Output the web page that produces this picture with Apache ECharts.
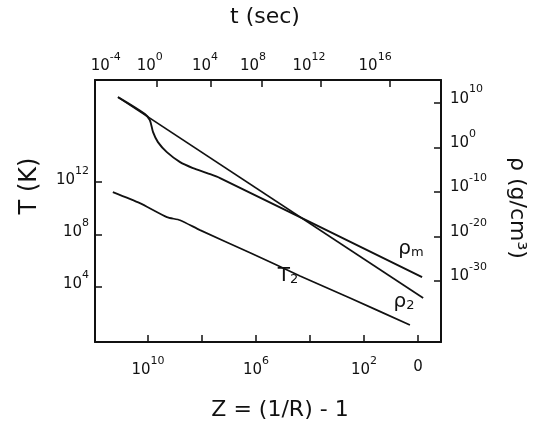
<!DOCTYPE html>
<html><head><meta charset="utf-8">
<script src="https://cdn.jsdelivr.net/npm/echarts@6/dist/echarts.min.js"></script>
<style>html,body{margin:0;padding:0;background:#fff}#c{width:550px;height:429px}</style>
</head><body><div id="c"></div>
<script>
// ---- data (log10 values) ----
const zTicks = [10, 8, 6, 4, 2, 0];            // log10 z, bottom axis ticks
const zLabelVals = [10, 6, 2, 0];              // labelled bottom ticks
const TTicks = [12, 8, 4];                     // log10 T (K)
const rhoTicks = [10, 0, -10, -20, -30];       // log10 rho (g/cm^3)
const tLabelExp = [-4, 0, 4, 8, 12, 16];       // log10 t (sec) labels on top axis
const tLabelZ = [11.56, 9.93, 7.89, 6.11, 4.04, 1.59]; // where those t labels sit on the z scale
const tTickZ = [9.67, 7.67, 5.78, 3.59, 1.04];         // top-axis tick marks on the z scale

const T2_logz = [11.30, 10.30, 9.30, 8.81, 8.07, 6.22, 4.37, 2.52, 0.30];
const T2_logT = [11.24, 10.40, 9.33, 9.10, 8.34, 6.62, 4.84, 3.16, 1.10];

const rho2_logz = [11.11, -0.19];
const rho2_logRho = [11.35, -33.8];

const rhom_logz = [11.11, 10.11, 9.93, 9.81, 9.63, 9.30, 8.81, 8.33, 7.81, 7.33, -0.15];
const rhom_logRho = [11.35, 7.53, 6.18, 3.48, 1.24, -1.01, -3.26, -4.61, -5.73, -6.85, -29.1];

// ---- chart ----
const FONT = '"DejaVu Sans", sans-serif';
const pair = (xs, ys) => xs.map((x, i) => [x, ys[i]]);
const pow = (e) => '{b|10}{s|' + e + '}';
const rich = {
  b: {fontSize: 15, fontFamily: FONT, color: '#111', lineHeight: 22, verticalAlign: 'bottom'},
  s: {fontSize: 11, fontFamily: FONT, color: '#111', lineHeight: 22, verticalAlign: 'top'},
  z: {fontSize: 15, fontFamily: FONT, color: '#111', lineHeight: 22}
};
const axLine = {show: true, onZero: false, lineStyle: {color: '#111', width: 2}};

const chart = echarts.init(document.getElementById('c'), null, {renderer: 'canvas'});
chart.setOption({
  backgroundColor: '#fff',
  animation: false,
  grid: {left: 95, right: 109, top: 80, bottom: 87, containLabel: false},
  xAxis: [
    {
      type: 'value', position: 'bottom', inverse: true, min: -0.85, max: 11.96,
      axisLine: axLine, splitLine: {show: false},
      axisTick: {show: true, inside: true, length: 7, lineStyle: {color: '#111', width: 1.5}, customValues: zTicks},
      axisLabel: {margin: 14, customValues: zLabelVals, rich: rich,
        formatter: v => v === 0 ? '{z|0}' : pow(v)}
    },
    {
      type: 'value', position: 'top', inverse: true, min: -0.85, max: 11.96,
      axisLine: axLine, splitLine: {show: false},
      axisTick: {show: true, inside: true, length: 7, lineStyle: {color: '#111', width: 1.5}, customValues: tTickZ},
      axisLabel: {margin: 6, customValues: tLabelZ, rich: rich,
        formatter: v => { const i = tLabelZ.indexOf(v); return pow(tLabelExp[i]); }}
    }
  ],
  yAxis: [
    {
      type: 'value', position: 'left', min: -0.2, max: 19.8,
      axisLine: axLine, splitLine: {show: false},
      axisTick: {show: true, inside: true, length: 7, lineStyle: {color: '#111', width: 1.5}, customValues: TTicks},
      axisLabel: {margin: 6, customValues: TTicks, rich: rich, padding: [0, 0, 12, 0],
        formatter: v => pow(v)}
    },
    {
      type: 'value', position: 'right', min: -43.7, max: 15.2,
      axisLine: axLine, splitLine: {show: false},
      axisTick: {show: true, inside: true, length: 7, lineStyle: {color: '#111', width: 1.5}, customValues: rhoTicks},
      axisLabel: {margin: 9, customValues: rhoTicks, rich: rich, padding: [0, 0, 16, 0],
        formatter: v => pow(v)}
    }
  ],
  series: [
    {name: 'T2', type: 'line', xAxisIndex: 0, yAxisIndex: 0, data: pair(T2_logz, T2_logT),
      showSymbol: false, smooth: 0.2, lineStyle: {color: '#111', width: 1.7}},
    {name: 'rho2', type: 'line', xAxisIndex: 0, yAxisIndex: 1, data: pair(rho2_logz, rho2_logRho),
      showSymbol: false, lineStyle: {color: '#111', width: 1.7}},
    {name: 'rhom', type: 'line', xAxisIndex: 0, yAxisIndex: 1, data: pair(rhom_logz, rhom_logRho),
      showSymbol: false, smooth: 0.3, lineStyle: {color: '#111', width: 1.9}}
  ],
  graphic: [
    {type: 'text', x: 265, y: 17, style: {text: 't (sec)', font: '22px ' + FONT, fill: '#111', align: 'center', verticalAlign: 'middle'}},
    {type: 'text', x: 280, y: 410, style: {text: 'Z = (1/R) - 1', font: '22px ' + FONT, fill: '#111', align: 'center', verticalAlign: 'middle'}},
    {type: 'text', x: 30, y: 186, rotation: Math.PI / 2, style: {text: 'T (K)', font: '24px ' + FONT, fill: '#111', align: 'center', verticalAlign: 'middle'}},
    {type: 'text', x: 517, y: 208, rotation: -Math.PI / 2, style: {text: 'ρ (g/cm³)', font: '22px ' + FONT, fill: '#111', align: 'center', verticalAlign: 'middle'}},
    {type: 'text', x: 411, y: 249, style: {text: '{m|ρ}{sub|m}', align: 'center', verticalAlign: 'middle',
      rich: {m: {font: '20px ' + FONT, fill: '#111'}, sub: {font: '13px ' + FONT, fill: '#111', padding: [8, 0, 0, 0]}}}},
    {type: 'text', x: 404, y: 302, style: {text: '{m|ρ}{sub|2}', align: 'center', verticalAlign: 'middle',
      rich: {m: {font: '20px ' + FONT, fill: '#111'}, sub: {font: '13px ' + FONT, fill: '#111', padding: [8, 0, 0, 0]}}}},
    {type: 'text', x: 288, y: 276, style: {text: '{m|T}{sub|2}', align: 'center', verticalAlign: 'middle',
      rich: {m: {font: '20px ' + FONT, fill: '#111'}, sub: {font: '13px ' + FONT, fill: '#111', padding: [8, 0, 0, 0]}}}}
  ]
});
</script></body></html>
